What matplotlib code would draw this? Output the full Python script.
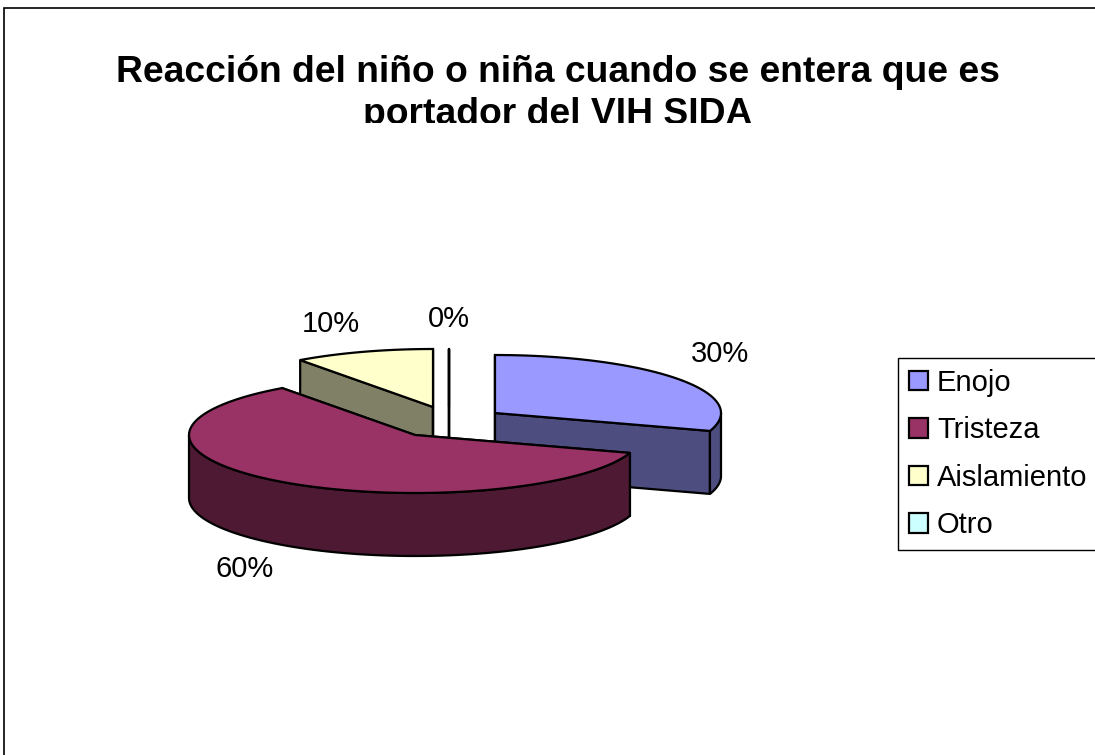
import numpy as np
import matplotlib
matplotlib.use("Agg")
import matplotlib.pyplot as plt
from matplotlib.patches import Patch, Polygon, Rectangle

plt.rcParams['font.family'] = ['Liberation Sans', 'DejaVu Sans']

categories = ["Enojo", "Tristeza", "Aislamiento", "Otro"]
values = [30, 60, 10, 0]
title_lines = ["Reacción del niño o niña cuando se entera que es", "portador del VIH SIDA"]

top_colors = ["#9999ff", "#993366", "#ffffcc", "#ccffff"]
side_colors = ["#4d4d80", "#4d1933", "#808066", "#668080"]

# exploded apex of each slice, in pixels
apex = [(495, 413), (415, 435), (433, 407), (449, 407)]
label_pos = [(720, 362), (245, 577), (331, 332), (449, 327)]
rx, ry, depth = 226, 58, 63


def rim(i, t0, t1):
    # angles run clockwise from 12 o'clock
    t = np.radians(np.linspace(t0, t1, 80))
    return np.column_stack([apex[i][0] + rx * np.sin(t), apex[i][1] - ry * np.cos(t)])


def draw_slice(ax, i, t0, t1):
    top = rim(i, t0, t1)
    ap = np.array(apex[i], dtype=float)
    down = np.array([0, depth])
    # flat faces first, then the outer wall on the front half, then the lid
    for t in (t0, t1):
        p = rim(i, t, t)[0]
        face = [ap, p, p + down, ap + down]
        ax.add_patch(Polygon(face, fc=side_colors[i], ec="black", lw=1.6, joinstyle="round"))
    w0, w1 = max(t0, 90), min(t1, 270)
    if w1 > w0:
        wall = rim(i, w0, w1)
        ax.add_patch(Polygon(np.vstack([wall, wall[::-1] + down]), fc=side_colors[i], ec="black", lw=1.6))
    ax.add_patch(Polygon(np.vstack([ap, top]), fc=top_colors[i], ec="black", lw=1.6))


fig = plt.figure(figsize=(10.95, 7.55), dpi=100)
ax = fig.add_axes([0, 0, 1, 1])
ax.set_xlim(0, 1095)
ax.set_ylim(755, 0)
ax.axis("off")

ax.add_patch(Rectangle((3.5, 7.5), 1200, 900, fc="white", ec="black", lw=1.2))

# slice angles from the data
edges = np.cumsum([0] + values) / sum(values) * 360
for i in [3, 2, 0, 1]:
    draw_slice(ax, i, edges[i], edges[i + 1])

for v, pos in zip(values, label_pos):
    ax.text(pos[0], pos[1], f"{v}%", fontsize=21, ha="center", va="baseline")

# the second title line is cut off by the title box in the original
clip = Rectangle((0, 0), 1095, 123, transform=ax.transData)
for line, y in zip(title_lines, [82, 124]):
    t = ax.text(558, y, line, fontsize=26.85, fontweight="bold", ha="center", va="baseline")
    t.set_clip_on(True)
    t.set_clip_path(clip)

handles = [Patch(fc=c, ec="black", lw=1.6) for c in top_colors]
ax.legend(handles, categories, loc="upper left", bbox_to_anchor=(898, 358), bbox_transform=ax.transData,
          fontsize=21, fancybox=False, framealpha=1, edgecolor="black", borderaxespad=0, borderpad=0.37,
          handlelength=0.65, handleheight=0.65, handletextpad=0.32, labelspacing=0.67)

fig.savefig("out.png", dpi=100)
